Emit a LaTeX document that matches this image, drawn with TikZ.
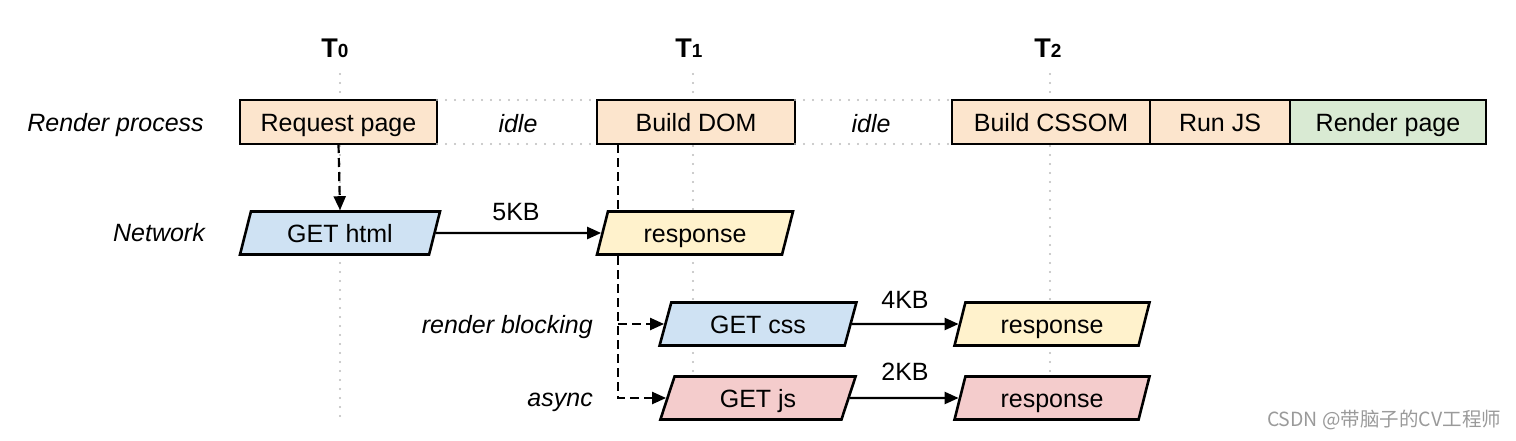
\documentclass[tikz,border=0pt]{standalone}
\usepackage{fontspec}
\setmainfont{Liberation Sans}
\newfontfamily\cjkfont{Noto Sans CJK SC}
\usetikzlibrary{arrows.meta,shapes.geometric,calc,backgrounds}
\definecolor{orangefill}{HTML}{FCE5CD}
\definecolor{greenfill}{HTML}{D9EAD3}
\definecolor{bluefill}{HTML}{CFE2F3}
\definecolor{yellowfill}{HTML}{FFF2CC}
\definecolor{pinkfill}{HTML}{F4CCCC}
\definecolor{dotgray}{HTML}{BBBBBB}
\definecolor{wmgray}{HTML}{9A9A9A}
\begin{document}
\begin{tikzpicture}[x=1pt,y=-1pt,
  every node/.style={font=\fontsize{25}{29}\selectfont, inner sep=0pt, text height=23pt, text depth=5pt},
  procbox/.style={draw=black, line width=2.6pt, minimum height=44pt, outer sep=0pt, anchor=center},
  netbox/.style={draw=black, line width=2.6pt, trapezium, trapezium left angle=77, trapezium right angle=103, trapezium stretches=true, minimum height=43pt},
  tlab/.style={font=\fontsize{27}{31}\selectfont\bfseries},
  rowlab/.style={font=\fontsize{25}{29}\selectfont\itshape, anchor=east},
  grid/.style={draw=dotgray, line width=2.4pt, line cap=round, dash pattern=on 0pt off 9pt},
  flow/.style={draw=black, line width=2.4pt, -{Triangle[length=14pt,width=12pt]}},
  dflow/.style={draw=black, line width=2.2pt, dash pattern=on 9pt off 5pt, -{Triangle[length=14pt,width=12pt]}},
  sizelab/.style={font=\fontsize{25}{29}\selectfont}
]
\useasboundingbox (0,0) rectangle (1516,440);

% time marks
\node[tlab] (t0) at (335,48) {T{\fontsize{19}{21}\selectfont 0}};
\node[tlab] (t1) at (689,48) {T{\fontsize{19}{21}\selectfont 1}};
\node[tlab] (t2) at (1048,48) {T{\fontsize{19}{21}\selectfont 2}};

% vertical dotted time lines
\coordinate (v0a) at (340,74); \coordinate (v0b) at (340,422);
\coordinate (v1a) at (693,74); \coordinate (v1b) at (693,422);
\coordinate (v2a) at (1050,74); \coordinate (v2b) at (1050,422);
\draw[grid] (v0a) -- (v0b);
\draw[grid] (v1a) -- (v1b);
\draw[grid] (v2a) -- (v2b);

% row labels
\node[rowlab] (lrp) at (204,122) {Render process};
\node[rowlab] (lnet) at (205,232) {Network};
\node[rowlab] (lrb) at (593,324) {render blocking};
\node[rowlab] (las) at (593,397) {async};

% render process row
\node[procbox, fill=orangefill, minimum width=197pt] (rp) at (338.5,122) {Request page};
\node[procbox, fill=orangefill, minimum width=198pt] (bd) at (696,122) {Build DOM};
\node[procbox, fill=orangefill, minimum width=198pt] (cssom) at (1051,122) {Build CSSOM};
\node[procbox, fill=orangefill, minimum width=140pt, anchor=west] (runjs) at (cssom.east) {Run JS};
\node[procbox, fill=greenfill, minimum width=196pt, anchor=west] (render) at (runjs.east) {Render page};

\draw[grid] (rp.north east) -- (bd.north west);
\draw[grid] (rp.south east) -- (bd.south west);
\draw[grid] (bd.north east) -- (cssom.north west);
\draw[grid] (bd.south east) -- (cssom.south west);
\node[font=\fontsize{25}{29}\selectfont\itshape] (idle1) at (518,123) {idle};
\node[font=\fontsize{25}{29}\selectfont\itshape] (idle2) at (871,123) {idle};

% network row
\node[netbox, fill=bluefill, minimum width=200pt] (gethtml) at (340,233) {GET html};
\node[netbox, fill=yellowfill, minimum width=196pt] (resp1) at (695,233) {response};
\draw[dflow] (rp.south) -- (gethtml.north);
\draw[flow] (gethtml.east) -- (resp1.west);
\node[sizelab] (kb5) at (516,211) {5KB};

% css / js rows
\node[netbox, fill=bluefill, minimum width=197pt] (getcss) at (758,324) {GET css};
\node[netbox, fill=yellowfill, minimum width=195pt] (resp2) at (1052,324) {response};
\node[netbox, fill=pinkfill, minimum width=197pt] (getjs) at (758,398) {GET js};
\node[netbox, fill=pinkfill, minimum width=195pt] (resp3) at (1052,398) {response};
\draw[flow] (getcss.east) -- (resp2.west);
\draw[flow] (getjs.east) -- (resp3.west);
\node[sizelab] (kb4) at (905,299) {4KB};
\node[sizelab] (kb2) at (905,371) {2KB};

% dashed dependency from Build DOM (behind the response box)
\coordinate (d0) at ($(bd.south west)+(21,0)$);
\coordinate (d2) at (d0 |- getcss.west);
\begin{pgfonlayer}{background}
\draw[dflow] (d0) |- (getjs.west);
\draw[dflow] (d2) -- (getcss.west);
\end{pgfonlayer}

% watermark
\node[font=\cjkfont\fontsize{19.5}{22}\selectfont, text=wmgray, text height=15pt, text depth=4pt] (wm) at (1384,421) {CSDN @带脑子的CV工程师};
\end{tikzpicture}
\end{document}
